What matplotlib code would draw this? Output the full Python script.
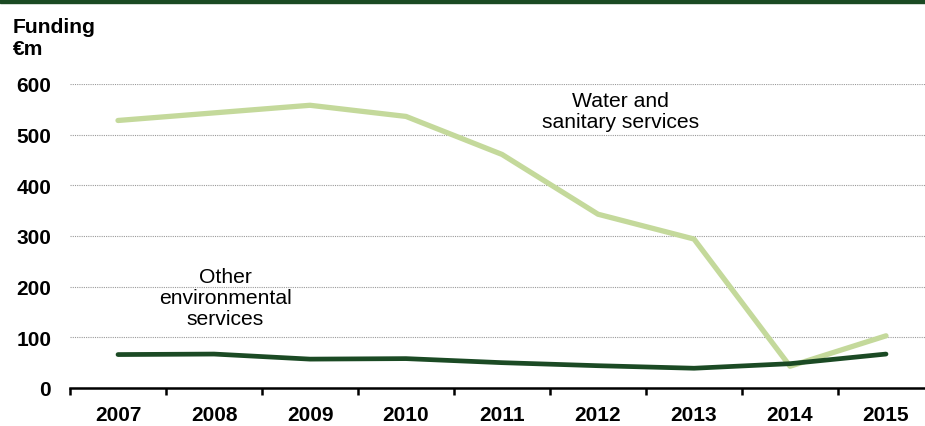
import matplotlib.pyplot as plt
from matplotlib.patches import Rectangle

plt.rcParams['font.family'] = ['Liberation Sans', 'DejaVu Sans']

years = ['2007', '2008', '2009', '2010', '2011', '2012', '2013', '2014', '2015']
water = [528, 543, 558, 536, 461, 343, 294, 43, 103]
other = [66, 67, 57, 58, 50, 44, 39, 48, 67]

light_green = '#c4d99b'
dark_green = '#1b4a24'

fig = plt.figure(figsize=(9.25, 4.27), dpi=100)
ax = fig.add_axes([70 / 925, 1 - 389 / 427, 864 / 925, (389 - 85) / 427])

x = range(len(years))
ax.plot(x, water, color=light_green, lw=3.8, solid_capstyle='round', solid_joinstyle='round')
ax.plot(x, other, color=dark_green, lw=3.4, solid_capstyle='round', solid_joinstyle='round')

ax.set_xlim(-0.5, len(years) - 0.5)
ax.set_ylim(0, 600)
ax.set_yticks(range(0, 601, 100))
ax.yaxis.grid(True, color='#9a9a9a', linestyle=(0, (1, 1)), lw=0.8)
ax.set_axisbelow(True)

# category labels in the middle, tick marks on the boundaries
ax.set_xticks([i + 0.5 for i in range(-1, len(years))], minor=False)
ax.set_xticklabels([])
ax.set_xticks(list(x), minor=True)
ax.set_xticklabels(years, minor=True, fontsize=15, fontweight='bold')
ax.tick_params(axis='x', which='major', length=5, width=1.8, direction='out')
ax.tick_params(axis='x', which='minor', length=0, pad=12)
ax.tick_params(axis='y', length=0, pad=13.5, labelsize=15)
for lab in ax.get_yticklabels():
    lab.set_fontweight('bold')

for s in ['left', 'right', 'top']:
    ax.spines[s].set_visible(False)
ax.spines['bottom'].set_linewidth(1.8)

ax.text(5.23, 546, 'Water and\nsanitary services', ha='center', va='center',
        fontsize=15.2, linespacing=1.12)
ax.text(1.12, 179, 'Other\nenvironmental\nservices', ha='center', va='center',
        fontsize=15.2, linespacing=1.12)

fig.text(13 / 925, 1 - 33 / 427, 'Funding', ha='left', va='baseline',
         fontsize=15.2, fontweight='bold')
fig.text(13 / 925, 1 - 55 / 427, '€m', ha='left', va='baseline',
         fontsize=15.2, fontweight='bold')

fig.patches.append(Rectangle((0, 1 - 4 / 427), 1, 4 / 427, transform=fig.transFigure,
                             color='#1b4a23', zorder=5))

fig.savefig('out.png', dpi=100)
